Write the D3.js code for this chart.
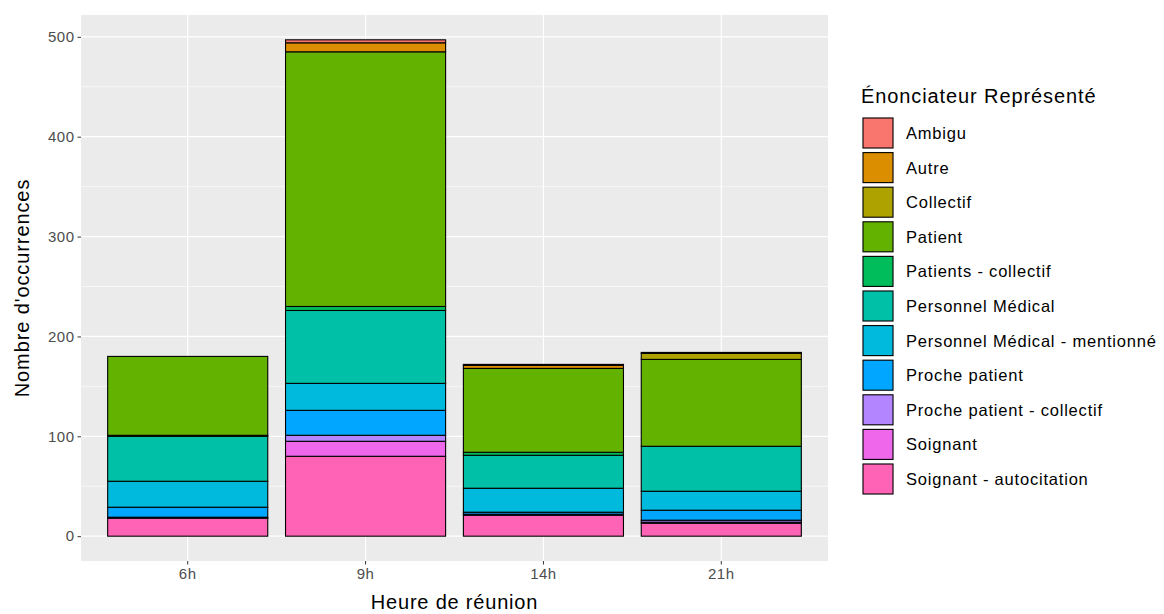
<!DOCTYPE html>
<html><head><meta charset="utf-8">
<script src="https://cdn.jsdelivr.net/npm/d3@7"></script>
<style>body{margin:0;background:#fff;}svg{font-family:"Liberation Sans",Arial,sans-serif;}</style>
</head><body><svg id="c" width="1164" height="614"></svg>
<script>
const categories = ["6h","9h","14h","21h"];
const seriesNames = ["Ambigu","Autre","Collectif","Patient","Patients - collectif","Personnel Médical","Personnel Médical - mentionné","Proche patient","Proche patient - collectif","Soignant","Soignant - autocitation"];
const ambigu = [0,3,1,1];
const autre = [0,9,3,0];
const collectif = [0,0,0,6];
const patient = [79,255,84,87];
const patientsCollectif = [1,4,3,0];
const personnelMedical = [45,73,33,45];
const personnelMedicalMentionne = [26,27,24,19];
const prochePatient = [10,25,2,10];
const prochePatientCollectif = [0,6,0,2];
const soignant = [1,15,1,1];
const soignantAutocitation = [18,80,21,13];
const colors = ["#F8766D","#DB8E00","#AEA200","#64B200","#00BD5C","#00C1A7","#00BADE","#00A6FF","#B385FF","#EF67EB","#FF63B6"];
const yTicks = [0,100,200,300,400,500];

const seriesVals = [ambigu,autre,collectif,patient,patientsCollectif,personnelMedical,personnelMedicalMentionne,prochePatient,prochePatientCollectif,soignant,soignantAutocitation];
const rows = categories.map((c,i)=>{const r={cat:c};seriesNames.forEach((s,j)=>r[s]=seriesVals[j][i]);return r;});
const stackKeys = seriesNames.slice().reverse();
const stacked = d3.stack().keys(stackKeys)(rows);
const maxTotal = d3.max(rows, r=>d3.sum(seriesNames, s=>r[s]));

const svg = d3.select("#c");
const pl=81, pr=828, pt=15, pb=561;
const y = d3.scaleLinear().domain([-0.05*maxTotal, maxTotal*1.05]).range([pb,pt]);
const step = (pr-pl)/4.2;
const xc = c => pl + step*(0.6 + categories.indexOf(c));
const bw = step*0.9;

svg.append("rect").attr("x",pl).attr("y",pt).attr("width",pr-pl).attr("height",pb-pt).attr("fill","#EBEBEB");
const minor = d3.range(50,maxTotal*1.05,100);
svg.selectAll(".mn").data(minor).enter().append("line").attr("x1",pl).attr("x2",pr)
 .attr("y1",d=>y(d)).attr("y2",d=>y(d)).attr("stroke","#fff").attr("stroke-width",0.6);
svg.selectAll(".mj").data(yTicks).enter().append("line").attr("x1",pl).attr("x2",pr)
 .attr("y1",d=>y(d)).attr("y2",d=>y(d)).attr("stroke","#fff").attr("stroke-width",1.2);
svg.selectAll(".vj").data(categories).enter().append("line").attr("y1",pt).attr("y2",pb)
 .attr("x1",d=>xc(d)).attr("x2",d=>xc(d)).attr("stroke","#fff").attr("stroke-width",1.2);

stacked.forEach(layer=>{
  const col = colors[seriesNames.indexOf(layer.key)];
  svg.append("g").selectAll("rect").data(layer.filter(d=>d[1]-d[0]>0)).enter().append("rect")
   .attr("x",d=>xc(d.data.cat)-bw/2).attr("width",bw)
   .attr("y",d=>y(d[1])).attr("height",d=>y(d[0])-y(d[1]))
   .attr("fill",col).attr("stroke","#000").attr("stroke-width",1.1);
});

const ya = svg.append("g").attr("transform",`translate(${pl},0)`)
 .call(d3.axisLeft(y).tickValues(yTicks).tickSize(3.5).tickPadding(3));
ya.select(".domain").remove();
ya.selectAll("line").attr("stroke","#333");
ya.selectAll("text").attr("fill","#4D4D4D").style("font-size","15px").style("letter-spacing","0.5px").style("font-family","Liberation Sans, Arial");
const xa = svg.append("g").attr("transform",`translate(0,${pb})`);
categories.forEach(c=>{
  xa.append("line").attr("x1",xc(c)).attr("x2",xc(c)).attr("y1",0).attr("y2",3.5).attr("stroke","#333");
  xa.append("text").attr("x",xc(c)).attr("y",18).attr("text-anchor","middle").attr("fill","#4D4D4D").style("font-size","15px").style("letter-spacing","0.5px").text(c);
});
svg.append("text").attr("x",(pl+pr)/2).attr("y",609).attr("text-anchor","middle").style("font-size","20px").style("letter-spacing","0.8px").attr("fill","#000").text("Heure de réunion");
svg.append("text").attr("transform",`translate(29,${(pt+pb)/2}) rotate(-90)`).attr("text-anchor","middle").style("font-size","20px").style("letter-spacing","0.9px").attr("fill","#000").text("Nombre d'occurrences");

const lg = svg.append("g");
lg.append("text").attr("x",861).attr("y",103).style("font-size","20px").style("letter-spacing","0.9px").attr("fill","#000").text("Énonciateur Représenté");
seriesNames.forEach((s,i)=>{
  const cy = 133 + i*34.6;
  lg.append("rect").attr("x",862).attr("y",cy-16).attr("width",32).attr("height",32).attr("fill","#F2F2F2");
  lg.append("rect").attr("x",863).attr("y",cy-15).attr("width",30).attr("height",30).attr("fill",colors[i]).attr("stroke","#000").attr("stroke-width",1.1);
  lg.append("text").attr("x",906).attr("y",cy+6).style("font-size","16.5px").style("letter-spacing","0.8px").attr("fill","#000").text(s);
});
</script></body></html>
